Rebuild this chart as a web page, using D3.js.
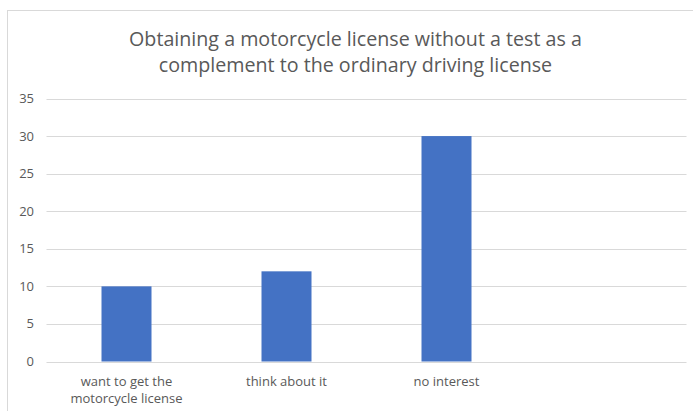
<!DOCTYPE html>
<html>
<head>
<meta charset="utf-8">
<script src="https://cdn.jsdelivr.net/npm/d3@7"></script>
<style>
  html, body { margin: 0; padding: 0; background: #fff; }
  svg { display: block; }
  text { font-family: "Open Sans", "Liberation Sans", sans-serif; fill: #595959; }
</style>
</head>
<body>
<svg id="chart" width="693" height="411"></svg>
<script>
const titleLines = ["Obtaining a motorcycle license without a test as a",
                    "complement to the ordinary driving license"];
const categories = ["want to get the\nmotorcycle license", "think about it", "no interest", ""];
const values = [10, 12, 30, null];
const yTicks = [0, 5, 10, 15, 20, 25, 30, 35];

const W = 693, H = 411;
const margin = { left: 46.5, right: 6.5, top: 98.5, bottom: 49.5 };
const svg = d3.select("#chart");

// chart frame
svg.append("rect")
  .attr("x", 7.5).attr("y", 10.5)
  .attr("width", 720).attr("height", 420)
  .attr("fill", "none").attr("stroke", "#d9d9d9").attr("stroke-width", 1);

const x = d3.scaleBand().domain(d3.range(categories.length))
  .range([margin.left, W - margin.right]).paddingInner(0).paddingOuter(0);
const y = d3.scaleLinear().domain([0, 35]).range([H - margin.bottom, margin.top]);

// gridlines
svg.append("g").selectAll("line").data(yTicks).join("line")
  .attr("x1", margin.left).attr("x2", W - margin.right)
  .attr("y1", d => Math.round(y(d)) + 0.5).attr("y2", d => Math.round(y(d)) + 0.5)
  .attr("stroke", "#d9d9d9").attr("stroke-width", 1);

// y tick labels
svg.append("g").selectAll("text").data(yTicks).join("text")
  .attr("x", 34).attr("y", d => y(d)).attr("dy", "0.35em")
  .attr("text-anchor", "end").style("font-size", "13px")
  .text(d => d);

// bars (gap width 220%)
const barW = x.bandwidth() / 3.2;
svg.append("g").selectAll("rect")
  .data(values.map((v, i) => ({ v, i })).filter(d => d.v != null))
  .join("rect")
  .attr("x", d => x(d.i) + (x.bandwidth() - barW) / 2)
  .attr("width", barW)
  .attr("y", d => y(d.v))
  .attr("height", d => y(0) - y(d.v))
  .attr("fill", "#4472c4");

// category labels
const cat = svg.append("g").selectAll("text").data(categories).join("text")
  .attr("text-anchor", "middle").style("font-size", "13px")
  .attr("x", (d, i) => x(i) + x.bandwidth() / 2)
  .attr("y", 386);
cat.each(function(d) {
  const t = d3.select(this);
  const lines = d.split("\n");
  lines.forEach((ln, k) => {
    t.append("tspan").attr("x", t.attr("x")).attr("dy", k === 0 ? 0 : 16.5).text(ln);
  });
});

// title
const title = svg.append("g").selectAll("text").data(titleLines).join("text")
  .attr("text-anchor", "middle").attr("x", 355.5)
  .attr("y", (d, i) => 45.5 + i * 26.5)
  .style("font-size", "20px").text(d => d);
// fit title font so first line spans ~453px as in the reference
const first = title.nodes()[0];
const w0 = first.getComputedTextLength();
const fs = 20 * 453 / w0;
title.style("font-size", fs + "px");
</script>
</body>
</html>
